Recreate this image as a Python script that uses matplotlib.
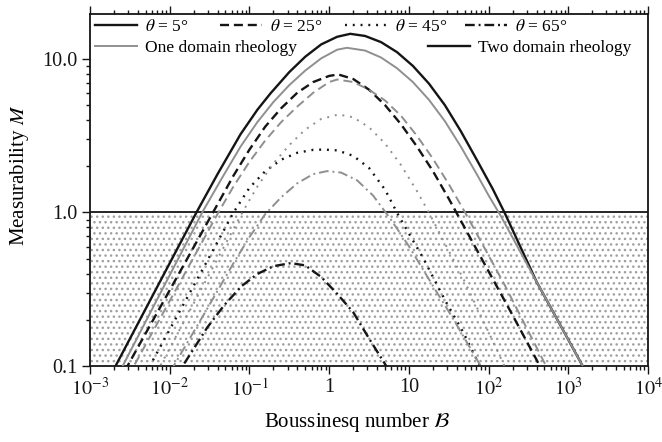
import numpy as np
import matplotlib
matplotlib.use("Agg")
import matplotlib.pyplot as plt
from matplotlib.lines import Line2D
from matplotlib.legend import Legend
from matplotlib.ticker import LogLocator, NullFormatter

plt.rcParams['font.family'] = 'serif'
plt.rcParams['font.serif'] = ['Liberation Serif', 'DejaVu Serif']
plt.rcParams['mathtext.fontset'] = 'stix'
plt.rcParams['lines.scale_dashes'] = False
plt.rcParams['hatch.linewidth'] = 1.0

# measurability M against Boussinesq number B, one list pair per curve
# theta = 5 deg
b_05_two = [0.00158, 0.00209, 0.0216, 0.0398, 0.0774, 0.126, 0.183, 0.316, 0.501, 0.794, 1.26, 1.84, 2.82, 4.47,
            7.08, 11.2, 17.8, 28.2, 44.7, 70.8, 112, 158, 398, 1510, 2000]
m_05_two = [0.0759, 0.1, 1.0, 1.78, 3.24, 4.68, 5.96, 8.22, 10.35, 12.45, 13.96, 14.59, 14.13, 12.88,
            11.09, 9.02, 6.92, 5.01, 3.39, 2.21, 1.43, 1.0, 0.355, 0.1, 0.0759]
b_05_one = [0.002, 0.00257, 0.0255, 0.0447, 0.0774, 0.126, 0.2, 0.316, 0.501, 0.794, 1.26, 1.67, 2.82, 4.47,
            7.08, 11.2, 17.8, 28.2, 44.7, 70.8, 100, 141, 398, 1510, 2000]
m_05_one = [0.0776, 0.1, 1.0, 1.66, 2.69, 3.89, 5.25, 6.76, 8.41, 10.1, 11.5, 11.83, 11.35, 10.23,
            8.71, 7.08, 5.43, 3.94, 2.69, 1.78, 1.29, 0.955, 0.355, 0.1, 0.0759]
# theta = 25 deg
b_25_two = [0.00224, 0.00295, 0.0356, 0.0631, 0.1, 0.158, 0.251, 0.398, 0.631, 1.0, 1.30, 2.0, 3.16, 5.01,
            7.94, 12.6, 20.0, 31.6, 39.8, 195, 398, 501]
m_25_two = [0.0776, 0.1, 1.02, 1.74, 2.57, 3.63, 4.79, 6.03, 7.08, 7.76, 7.93, 7.41, 6.31, 5.01,
            3.76, 2.69, 1.86, 1.23, 0.989, 0.219, 0.110, 0.0871]
b_25_one = [0.00251, 0.00355, 0.0407, 0.0631, 0.1, 0.158, 0.251, 0.398, 0.631, 1.0, 1.26, 2.0, 3.16, 5.01,
            7.94, 12.6, 20.0, 31.6, 50.1, 158, 525, 708]
m_25_one = [0.0708, 0.1, 1.0, 1.48, 2.14, 2.95, 3.89, 4.90, 6.03, 7.08, 7.35, 7.08, 6.31, 5.37,
            4.27, 3.16, 2.24, 1.53, 1.01, 0.339, 0.1, 0.0741]
# theta = 45 deg
b_45_two = [0.00398, 0.00562, 0.0229, 0.0631, 0.1, 0.158, 0.251, 0.398, 0.631, 0.851, 1.26, 2.0, 3.16, 5.01,
            7.41, 15.2, 28.5, 47.9, 77.6, 100]
m_45_two = [0.0724, 0.1, 0.38, 1.0, 1.45, 1.86, 2.21, 2.45, 2.56, 2.57, 2.54, 2.34, 1.95, 1.41,
            0.955, 0.501, 0.267, 0.166, 0.1, 0.0794]
b_45_one = [0.00562, 0.00759, 0.0813, 0.126, 0.2, 0.316, 0.501, 0.794, 1.31, 2.0, 3.16, 5.01, 7.94, 12.6,
            17.8, 50.1, 158, 200]
m_45_one = [0.0741, 0.1, 1.0, 1.48, 2.09, 2.75, 3.47, 4.07, 4.35, 4.17, 3.59, 2.82, 2.04, 1.38,
            1.0, 0.355, 0.1, 0.0794]
# theta = 65 deg
b_65_two = [0.0112, 0.0145, 0.0182, 0.0295, 0.0479, 0.0794, 0.126, 0.2, 0.331, 0.501, 0.794, 1.26, 2.0, 3.16,
            5.19, 6.31]
m_65_two = [0.0813, 0.1, 0.12, 0.178, 0.248, 0.331, 0.398, 0.447, 0.468, 0.452, 0.380, 0.295, 0.224, 0.151,
            0.1, 0.0851]
b_65_one = [0.00794, 0.0112, 0.0316, 0.0631, 0.1, 0.158, 0.251, 0.398, 0.631, 0.94, 1.41, 2.24, 3.55, 5.83,
            10, 15.8, 22.4, 34.7, 79.4, 100]
m_65_one = [0.0708, 0.1, 0.251, 0.468, 0.692, 0.977, 1.26, 1.55, 1.78, 1.86, 1.82, 1.62, 1.29, 0.912,
            0.603, 0.407, 0.302, 0.209, 0.1, 0.0813]

theta_labels = [r'$\theta$ = 5°', r'$\theta$ = 25°', r'$\theta$ = 45°', r'$\theta$ = 65°']
rheology_labels = ['One domain rheology', 'Two domain rheology']
xtick_vals = [1e-3, 1e-2, 1e-1, 1, 10, 1e2, 1e3, 1e4]
xtick_text = [r'$10^{-3}$', r'$10^{-2}$', r'$10^{-1}$', '1', '10', r'$10^{2}$', r'$10^{3}$', r'$10^{4}$']
ytick_vals = [0.1, 1.0, 10.0]
ytick_text = ['0.1', '1.0', '10.0']

black = '#151515'
grey = '#8f8f8f'
styles = ['-', (0, (6.5, 3.5)), (0, (1.4, 4.2)), (0, (7, 2.8, 1.4, 2.8))]

fig = plt.figure(figsize=(6.62, 4.42), dpi=100)
ax = fig.add_axes([0.136, 0.172, 0.843, 0.796])
ax.set_xscale('log')
ax.set_yscale('log')
ax.set_xlim(1e-3, 1e4)
ax.set_ylim(0.1, 19.6)

# stippled band where M < 1
ax.axhspan(0.1, 1.0, facecolor='none', edgecolor='#a0a0a0', hatch='...', linewidth=0, zorder=0.5)
ax.axhline(1.0, color=black, lw=1.3, zorder=1)

curves = [
    (b_05_two, m_05_two, b_05_one, m_05_one),
    (b_25_two, m_25_two, b_25_one, m_25_one),
    (b_45_two, m_45_two, b_45_one, m_45_one),
    (b_65_two, m_65_two, b_65_one, m_65_one),
]
for (bt, mt, bo, mo), ls in zip(curves, styles):
    ax.plot(bt, mt, color=black, lw=1.7, ls=ls, zorder=2)
    ax.plot(bo, mo, color=grey, lw=1.4, ls=ls, zorder=3)

ax.set_xticks(xtick_vals)
ax.set_xticklabels(xtick_text)
ax.xaxis.set_minor_locator(LogLocator(base=10, subs=np.arange(2, 10), numticks=20))
ax.xaxis.set_minor_formatter(NullFormatter())
ax.set_yticks(ytick_vals)
ax.set_yticklabels(ytick_text)
ax.yaxis.set_minor_locator(LogLocator(base=10, subs=np.arange(2, 10), numticks=20))
ax.yaxis.set_minor_formatter(NullFormatter())
ax.tick_params(which='both', direction='out', top=True, right=False, labelsize=14.5, width=1.0, colors=black)
ax.tick_params(which='major', length=5.5, pad=3.5)
ax.tick_params(which='minor', length=3.2)
for sp in ax.spines.values():
    sp.set_linewidth(1.3)
    sp.set_color(black)

ax.set_xlabel(r'Boussinesq number $\mathcal{B}$', fontsize=15)
ax.set_ylabel(r'Measurability $M$', fontsize=15)
ax.xaxis.set_label_coords(0.4785, -0.128)
ax.yaxis.set_label_coords(-0.105, 0.543)


def add_key(handle, label, px, py):
    # one legend entry, handle starting at pixel column px, row centred on pixel row py
    leg = Legend(ax, [handle], [label], loc='center left',
                 bbox_to_anchor=((px - 90) / 558, (366 - py) / 352),
                 frameon=False, fontsize=12.5, borderpad=0, borderaxespad=0,
                 handlelength=2.4, handletextpad=0.45)
    ax.add_artist(leg)


for ls, lab, px in zip(styles, theta_labels, [95, 220, 345, 465]):
    add_key(Line2D([], [], color=black, lw=1.7, ls=ls), lab, px, 27)
add_key(Line2D([], [], color=grey, lw=1.4), rheology_labels[0], 95, 48)
add_key(Line2D([], [], color=black, lw=1.7), rheology_labels[1], 428, 48)

fig.savefig('out.png', dpi=100)
